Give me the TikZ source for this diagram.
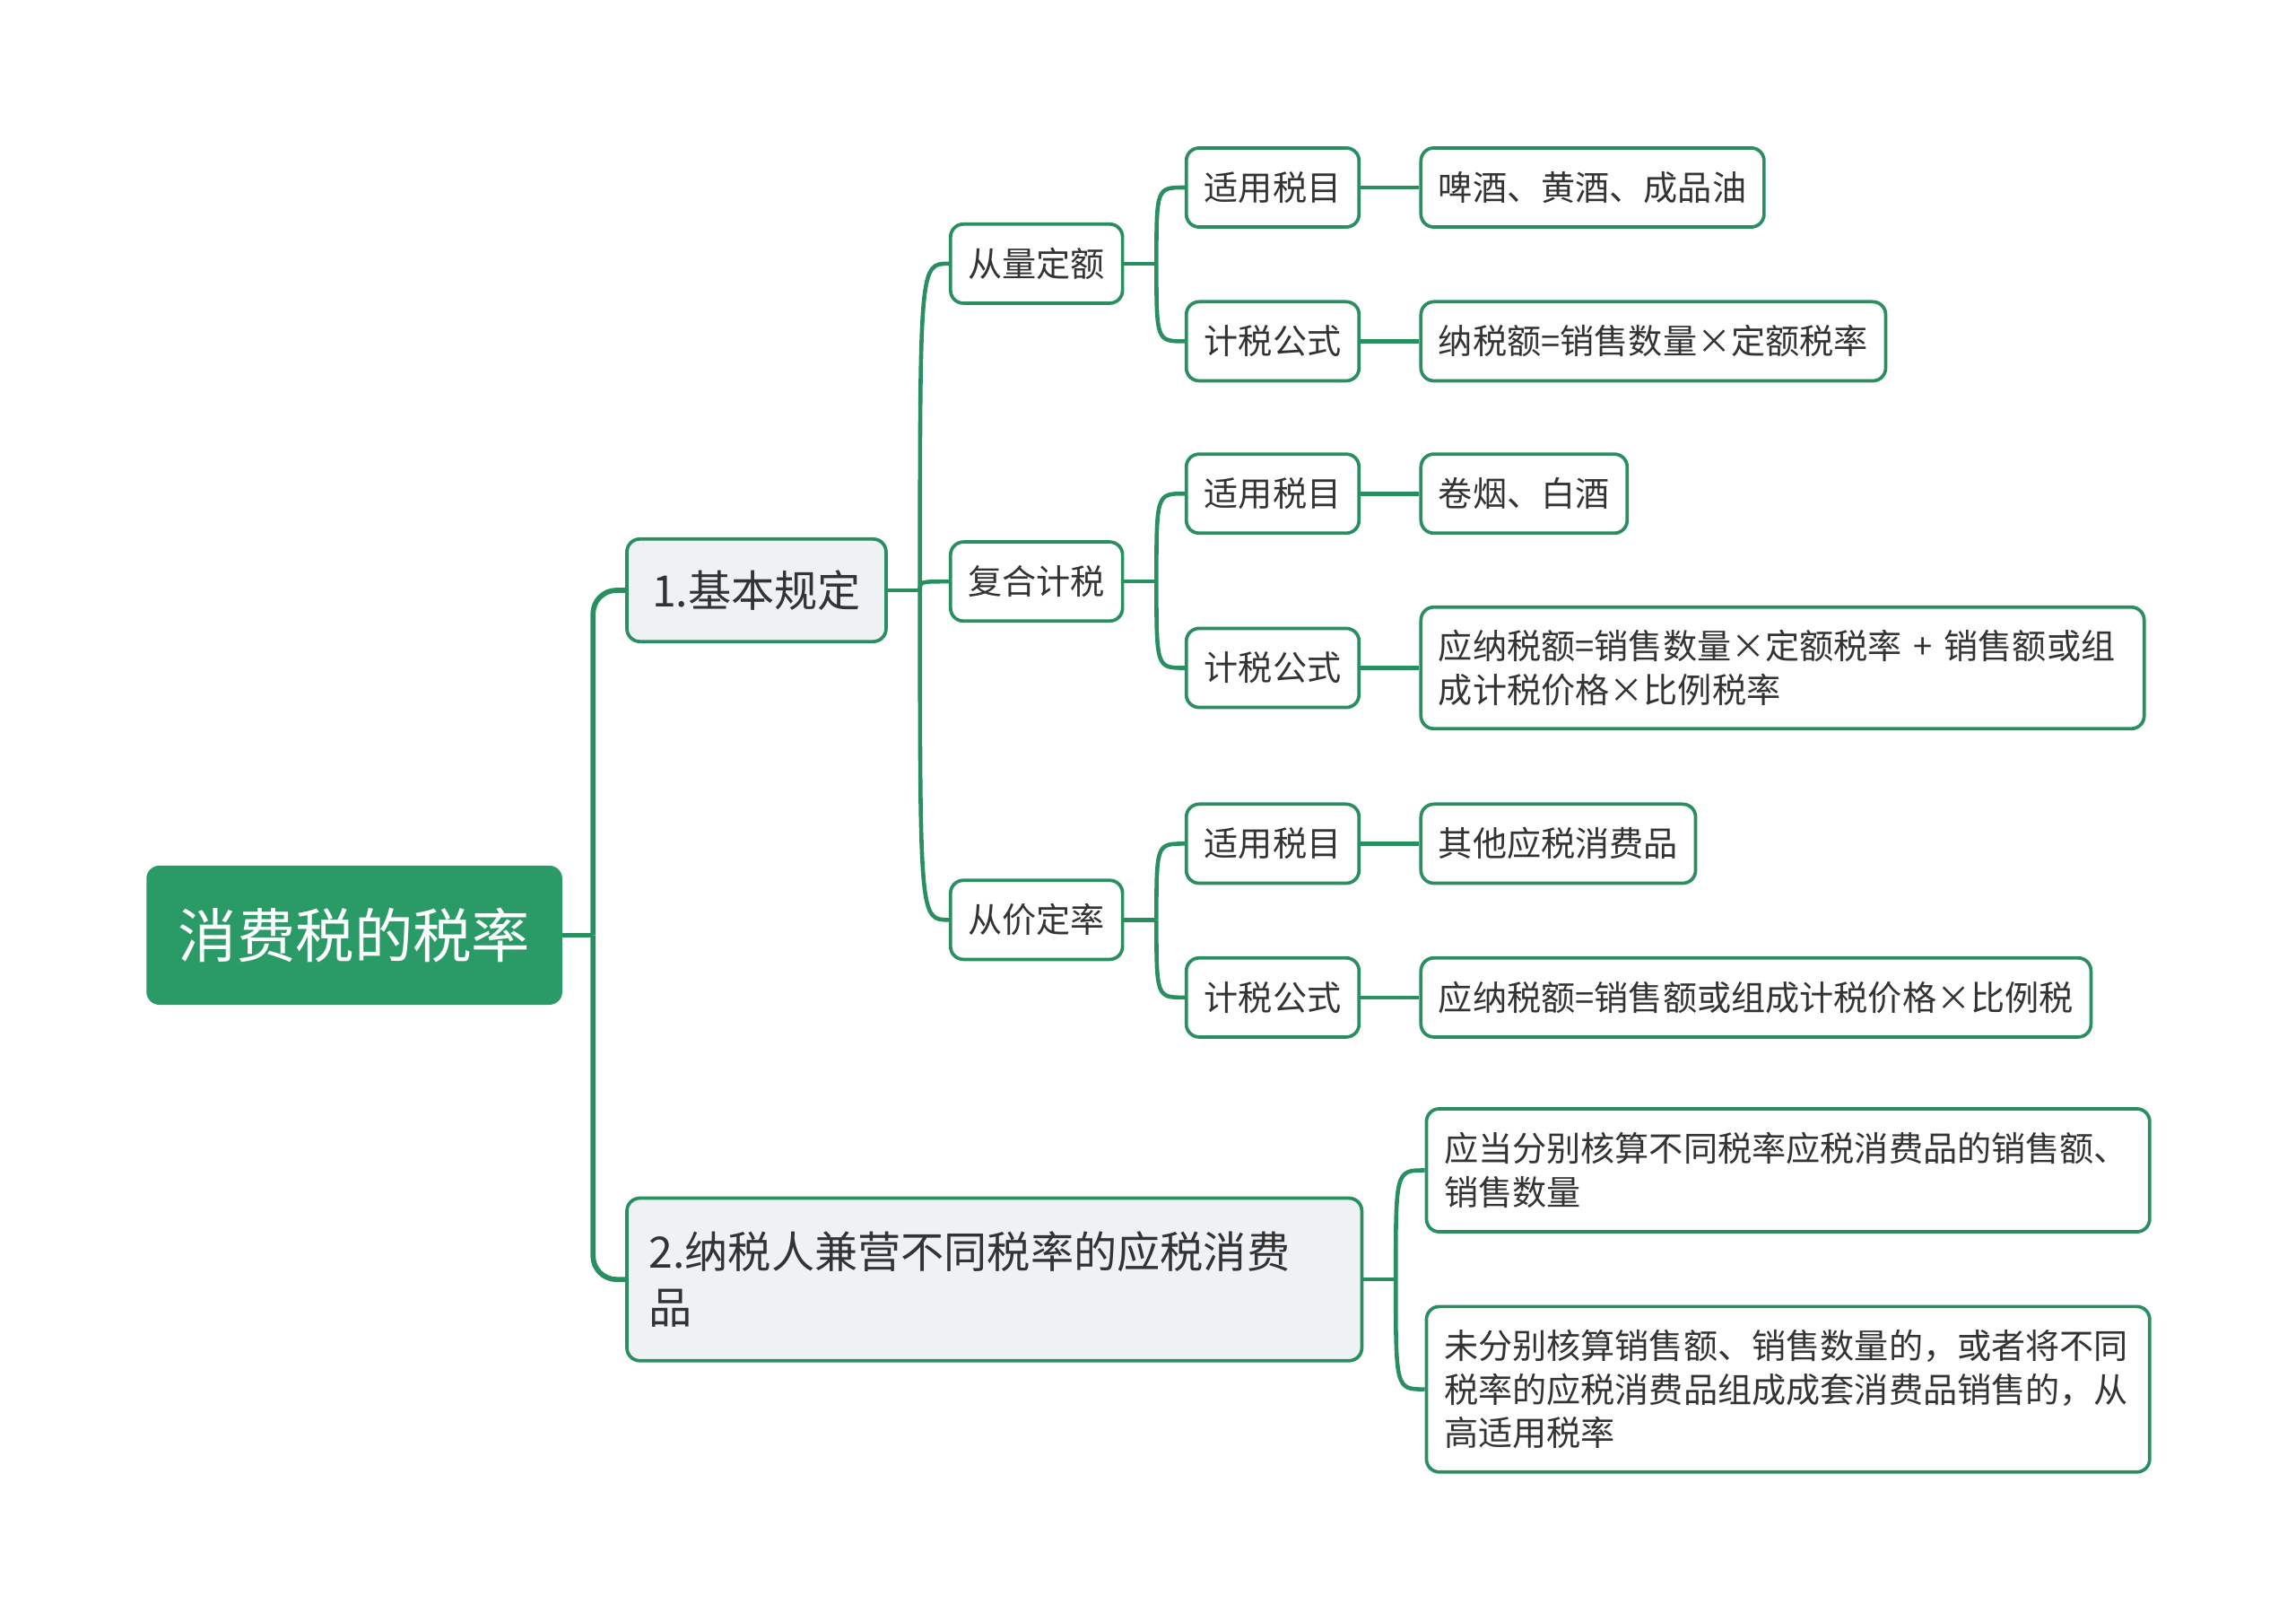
\documentclass[tikz,border=0pt]{standalone}
\usepackage{fontspec}
\setmainfont{Noto Sans CJK SC}
\usetikzlibrary{positioning}
\definecolor{mapgreen}{RGB}{42,154,102}
\definecolor{linegreen}{RGB}{42,143,96}
\definecolor{topicbg}{RGB}{238,242,245}
\definecolor{inktext}{RGB}{51,51,51}
\tikzset{
  rootbox/.style={rectangle, rounded corners=5pt,
    fill=mapgreen, text=white,
    minimum width=5.68cm, minimum height=1.9cm,
    font=\fontsize{22.8}{27}\selectfont},
  mainbox/.style={rectangle, rounded corners=5pt,
    draw=linegreen, fill=topicbg, line width=1.3pt,
    text=inktext, inner xsep=0.3cm,
    font=\fontsize{16.8}{21.6}\selectfont},
  subbox/.style={rectangle, rounded corners=5pt,
    draw=linegreen, fill=white, line width=1.3pt,
    text=inktext, inner xsep=0.24cm, minimum height=1.08cm,
    font=\fontsize{13.3}{17}\selectfont},
  mainlink/.style={draw=linegreen, line width=2pt, rounded corners=0.32cm},
  link/.style={draw=linegreen, line width=1.6pt},
}
\begin{document}
\begin{tikzpicture}[x=0.02cm, y=-0.02cm]
  \useasboundingbox (0,0) rectangle (1568,1107);
  \node[rootbox] (root) at (242,638.5) {消费税的税率};

  \node[mainbox, anchor=west, minimum width=3.54cm, minimum height=1.4cm]
    (basic) at (427,403) {1.基本规定};
  \node[mainbox, anchor=west, minimum width=10.04cm, minimum height=2.22cm,
    text width=9.44cm, align=left] (mixed) at (427,873.5)
    {2.纳税人兼营不同税率的应税消费\\品};

  % third level
  \node[subbox, anchor=west, minimum width=2.34cm] (quant) at (648,180) {从量定额};
  \node[subbox, anchor=west, minimum width=2.34cm] (comp)  at (648,397) {复合计税};
  \node[subbox, anchor=west, minimum width=2.34cm] (adval) at (648,628) {从价定率};

  \node[subbox, anchor=west, minimum width=2.36cm] (qItem) at (809,128) {适用税目};
  \node[subbox, anchor=west, minimum width=2.36cm] (qForm) at (809,233) {计税公式};
  \node[subbox, anchor=west, minimum width=2.36cm] (cItem) at (809,337) {适用税目};
  \node[subbox, anchor=west, minimum width=2.36cm] (cForm) at (809,456) {计税公式};
  \node[subbox, anchor=west, minimum width=2.36cm] (aItem) at (809,576) {适用税目};
  \node[subbox, anchor=west, minimum width=2.36cm] (aForm) at (809,681) {计税公式};

  % leaves
  \node[subbox, right=0.8cm of qItem] (qItem-L) {啤酒、黄酒、成品油};
  \node[subbox, right=0.8cm of qForm] (qForm-L) {纳税额=销售数量×定额税率};
  \node[subbox, right=0.8cm of cItem] (cItem-L) {卷烟、白酒};
  \node[subbox, right=0.8cm of cForm, minimum height=1.66cm,
    text width=9.4cm, align=left] (cForm-L)
    {应纳税额=销售数量×定额税率~+~销售额或组\\成计税价格×比例税率};
  \node[subbox, right=0.8cm of aItem] (aItem-L) {其他应税消费品};
  \node[subbox, right=0.8cm of aForm] (aForm-L) {应纳税额=销售额或组成计税价格×比例税};

  \node[subbox, anchor=west, minimum height=1.68cm, text width=9.4cm,
    align=left] (sepA) at (973,799)
    {应当分别核算不同税率应税消费品的销售额、\\销售数量};
  \node[subbox, anchor=west, minimum height=2.26cm, text width=9.4cm,
    align=left] (sepB) at (973,948.5)
    {未分别核算销售额、销售数量的，或者将不同\\税率的应税消费品组成成套消费品销售的，从\\高适用税率};

  % connectors
  \coordinate (rootj) at (405,638.5);
  \draw[mainlink] (root.east) -- (rootj);
  \draw[mainlink] (rootj) |- (basic.west);
  \draw[mainlink] (rootj) |- (mixed.west);

  \draw[link] (basic.east) -- ++(22,0) coordinate (basicj);
  \foreach \c in {quant, comp, adval}
    \draw[link] (basicj) .. controls (basicj |- \c.west) .. (\c.west);

  \foreach \p/\a/\b in {quant/qItem/qForm, comp/cItem/cForm, adval/aItem/aForm} {
    \draw[link] (\p.east) -- ++(22,0) coordinate (\p-j);
    \draw[link] (\p-j) .. controls (\p-j |- \a.west) .. (\a.west);
    \draw[link] (\p-j) .. controls (\p-j |- \b.west) .. (\b.west);
    \draw[link] (\a.east) -- (\a-L.west);
    \draw[link] (\b.east) -- (\b-L.west);
  }

  \draw[link] (mixed.east) -- ++(22,0) coordinate (mixedj);
  \foreach \c in {sepA, sepB}
    \draw[link] (mixedj) .. controls (mixedj |- \c.west) .. (\c.west);
\end{tikzpicture}
\end{document}
